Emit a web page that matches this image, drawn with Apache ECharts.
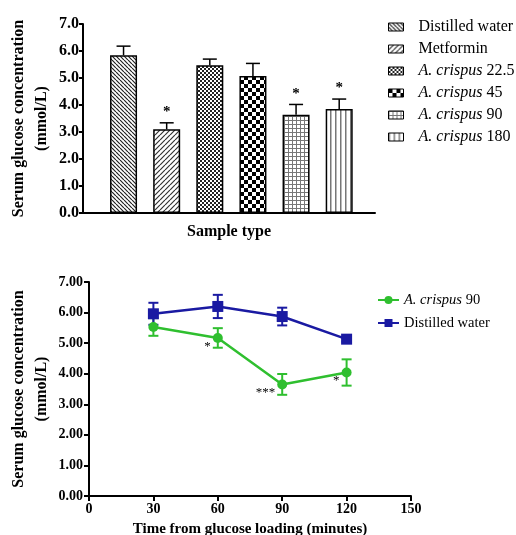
<!DOCTYPE html>
<html>
<head>
<meta charset="utf-8">
<script src="https://cdn.jsdelivr.net/npm/echarts@6/dist/echarts.min.js"></script>
<style>
  html, body { margin: 0; padding: 0; background: #fff; }
  #chart { width: 516px; height: 535px; }
</style>
</head>
<body>
<div id="chart"></div>
<script>
// top panel: fasting glucose per group
const groups = ['Distilled water', 'Metformin', 'A. crispus 22.5', 'A. crispus 45', 'A. crispus 90', 'A. crispus 180']
const groupMeans = [5.84, 3.1, 5.47, 5.07, 3.64, 3.85]
const groupSem = [0.34, 0.24, 0.23, 0.47, 0.38, 0.37]
const groupStars = ['', '*', '', '', '*', '*']
const barTicks = [0, 1, 2, 3, 4, 5, 6, 7]

// bottom panel: glucose tolerance curve
const times = [30, 60, 90, 120]
const crispusMeans = [5.53, 5.17, 3.65, 4.04]
const crispusSem = [0.29, 0.32, 0.34, 0.43]
const crispusStars = ['', '*', '***', '*']
const waterMeans = [5.96, 6.2, 5.87, 5.13]
const waterSem = [0.36, 0.38, 0.29, 0.08]
const timeTicks = [0, 30, 60, 90, 120, 150]

const SERIF = 'Liberation Serif, Times New Roman, serif'
const GREEN = '#2fbf2f'
const BLUE = '#1a1aa2'

function pattern(size, draw) {
  const c = document.createElement('canvas')
  c.width = size
  c.height = size
  const ctx = c.getContext('2d')
  ctx.fillStyle = '#fff'
  ctx.fillRect(0, 0, size, size)
  draw(ctx, size)
  return { image: c, repeat: 'repeat' }
}

// hatch fills, one per group
const fills = [
  pattern(4, (ctx, s) => { // "\\\" lines
    ctx.strokeStyle = '#222'; ctx.lineWidth = 1.2
    ctx.beginPath()
    for (const k of [-s, 0, s]) { ctx.moveTo(k, 0); ctx.lineTo(k + s, s) }
    ctx.stroke()
  }),
  pattern(5, (ctx, s) => { // "///" lines
    ctx.strokeStyle = '#333'; ctx.lineWidth = 1.2
    ctx.beginPath()
    for (const k of [-s, 0, s]) { ctx.moveTo(k, s); ctx.lineTo(k + s, 0) }
    ctx.stroke()
  }),
  pattern(4, (ctx) => { // fine checker
    ctx.fillStyle = '#222'
    ctx.fillRect(0, 0, 2, 2); ctx.fillRect(2, 2, 2, 2)
  }),
  pattern(8, (ctx) => { // coarse checker
    ctx.fillStyle = '#000'
    ctx.fillRect(0, 0, 4, 4); ctx.fillRect(4, 4, 4, 4)
  }),
  pattern(4, (ctx) => { // grid
    ctx.fillStyle = '#777'
    ctx.fillRect(0, 0, 4, 1); ctx.fillRect(0, 0, 1, 4)
  }),
  pattern(5, (ctx) => { // vertical lines
    ctx.fillStyle = '#777'
    ctx.fillRect(0, 0, 1.5, 5)
  })
]

const axisLine = { show: true, lineStyle: { color: '#000', width: 2 } }
const axisTick = { show: true, length: 5, lineStyle: { color: '#000', width: 2 } }
const boldLabel = { color: '#000', fontFamily: SERIF, fontWeight: 'bold', fontSize: 14 }

function legendName(name) {
  if (name.startsWith('A. crispus')) return '{i|A. crispus}' + name.slice(10)
  return name
}
function legendText(size) {
  return {
    color: '#000', fontFamily: SERIF, fontSize: size, lineHeight: 16,
    rich: { i: { fontStyle: 'italic', fontFamily: SERIF, fontSize: size, color: '#000' } }
  }
}

const barSeries = groups.map((g, i) => ({
  name: g,
  type: 'bar',
  xAxisIndex: 0,
  yAxisIndex: 0,
  stack: 'groups',
  barWidth: 27,
  data: [[i + 1, groupMeans[i]]],
  itemStyle: { color: fills[i], borderColor: '#000', borderWidth: 1.5 },
  z: 2
}))

const barErrors = {
  type: 'custom',
  xAxisIndex: 0,
  yAxisIndex: 0,
  z: 3,
  silent: true,
  data: groups.map((g, i) => [i + 1, groupMeans[i], groupMeans[i] + groupSem[i]]),
  renderItem(params, api) {
    const base = api.coord([api.value(0), api.value(1)])
    const top = api.coord([api.value(0), api.value(2)])
    const star = groupStars[params.dataIndex]
    const children = [
      { type: 'line', shape: { x1: top[0], y1: base[1], x2: top[0], y2: top[1] }, style: { stroke: '#000', lineWidth: 1.5 } },
      { type: 'line', shape: { x1: top[0] - 7, y1: top[1], x2: top[0] + 7, y2: top[1] }, style: { stroke: '#000', lineWidth: 1.5 } }
    ]
    if (star) {
      children.push({ type: 'text', x: top[0], y: top[1] - 3, style: { text: star, fill: '#000', font: 'bold 15px ' + SERIF, align: 'center', verticalAlign: 'bottom' } })
    }
    return { type: 'group', children }
  }
}

function curveErrors(means, sem, color) {
  return {
    type: 'custom',
    xAxisIndex: 1,
    yAxisIndex: 1,
    z: 1,
    silent: true,
    data: times.map((t, i) => [t, means[i] - sem[i], means[i] + sem[i]]),
    renderItem(params, api) {
      const lo = api.coord([api.value(0), api.value(1)])
      const hi = api.coord([api.value(0), api.value(2)])
      const st = { stroke: color, lineWidth: 2 }
      return {
        type: 'group',
        children: [
          { type: 'line', shape: { x1: lo[0], y1: lo[1], x2: hi[0], y2: hi[1] }, style: st },
          { type: 'line', shape: { x1: hi[0] - 5, y1: hi[1], x2: hi[0] + 5, y2: hi[1] }, style: st },
          { type: 'line', shape: { x1: lo[0] - 5, y1: lo[1], x2: lo[0] + 5, y2: lo[1] }, style: st }
        ]
      }
    }
  }
}

const curveStars = {
  type: 'custom',
  xAxisIndex: 1,
  yAxisIndex: 1,
  z: 4,
  silent: true,
  data: times.map((t, i) => [t, crispusMeans[i]]),
  renderItem(params, api) {
    const star = crispusStars[params.dataIndex]
    if (!star) return null
    const p = api.coord([api.value(0), api.value(1)])
    return { type: 'text', x: p[0] - 7, y: p[1] + 2, style: { text: star, fill: '#000', font: '13px ' + SERIF, align: 'right', verticalAlign: 'top' } }
  }
}

const option = {
  animation: false,
  backgroundColor: '#fff',
  legend: [
    {
      data: groups,
      left: 383,
      top: 14,
      orient: 'vertical',
      icon: 'rect',
      itemWidth: 15,
      itemHeight: 8,
      itemGap: 6,
      itemStyle: { borderColor: '#000', borderWidth: 1 },
      formatter: legendName,
      textStyle: Object.assign({ padding: [0, 0, 0, 10] }, legendText(16))
    },
    {
      data: ['A. crispus 90 ', 'Distilled water '],
      left: 372,
      top: 287,
      orient: 'vertical',
      itemWidth: 21,
      itemHeight: 10,
      itemGap: 7,
      formatter: (name) => legendName(name.trim()),
      textStyle: legendText(14.5)
    }
  ],
  grid: [
    { left: 83, top: 24, width: 292, height: 189, outerBoundsMode: 'none', containLabel: false },
    { left: 89, top: 282, width: 322, height: 214, outerBoundsMode: 'none', containLabel: false }
  ],
  xAxis: [
    {
      gridIndex: 0,
      type: 'value',
      min: 0.06,
      max: 6.83,
      axisLine,
      axisTick: { show: false },
      axisLabel: { show: false },
      splitLine: { show: false },
      name: 'Sample type',
      nameLocation: 'middle',
      nameGap: 11,
      nameTextStyle: Object.assign({}, boldLabel, { fontSize: 16 })
    },
    {
      gridIndex: 1,
      type: 'value',
      min: timeTicks[0],
      max: timeTicks[timeTicks.length - 1],
      interval: 30,
      axisLine,
      axisTick,
      axisLabel: Object.assign({ margin: 6 }, boldLabel),
      splitLine: { show: false },
      name: 'Time from glucose loading (minutes)',
      nameLocation: 'middle',
      nameGap: 26,
      nameTextStyle: Object.assign({}, boldLabel, { fontSize: 15 })
    }
  ],
  yAxis: [
    {
      gridIndex: 0,
      type: 'value',
      min: barTicks[0],
      max: barTicks[barTicks.length - 1],
      interval: 1,
      axisLine,
      axisTick: Object.assign({}, axisTick, { length: 4 }),
      axisLabel: Object.assign({ margin: 4, formatter: (v) => v.toFixed(1) }, boldLabel, { fontSize: 16 }),
      splitLine: { show: false },
      name: 'Serum glucose concentration\n(mmol/L)',
      nameLocation: 'middle',
      nameRotate: 90,
      nameGap: 30,
      nameMoveOverlap: false,
      nameTextStyle: Object.assign({}, boldLabel, { fontSize: 16, lineHeight: 23 })
    },
    {
      gridIndex: 1,
      type: 'value',
      min: 0,
      max: 7,
      interval: 1,
      axisLine,
      axisTick,
      axisLabel: Object.assign({ margin: 6, formatter: (v) => v.toFixed(2) }, boldLabel),
      splitLine: { show: false },
      name: 'Serum glucose concentration\n(mmol/L)',
      nameLocation: 'middle',
      nameRotate: 90,
      nameGap: 36,
      nameMoveOverlap: false,
      nameTextStyle: Object.assign({}, boldLabel, { fontSize: 16, lineHeight: 23 })
    }
  ],
  series: [
    ...barSeries,
    barErrors,
    curveErrors(crispusMeans, crispusSem, GREEN),
    curveErrors(waterMeans, waterSem, BLUE),
    {
      name: 'A. crispus 90 ',
      type: 'line',
      xAxisIndex: 1,
      yAxisIndex: 1,
      data: times.map((t, i) => [t, crispusMeans[i]]),
      symbol: 'circle',
      symbolSize: 10,
      itemStyle: { color: GREEN },
      lineStyle: { color: GREEN, width: 2.5 },
      z: 3
    },
    {
      name: 'Distilled water ',
      type: 'line',
      xAxisIndex: 1,
      yAxisIndex: 1,
      data: times.map((t, i) => [t, waterMeans[i]]),
      symbol: 'rect',
      symbolSize: 11,
      itemStyle: { color: BLUE },
      lineStyle: { color: BLUE, width: 2.5 },
      z: 3
    },
    curveStars
  ]
}

const chart = echarts.init(document.getElementById('chart'), null, { renderer: 'canvas' })
chart.setOption(option)
</script>
</body>
</html>
